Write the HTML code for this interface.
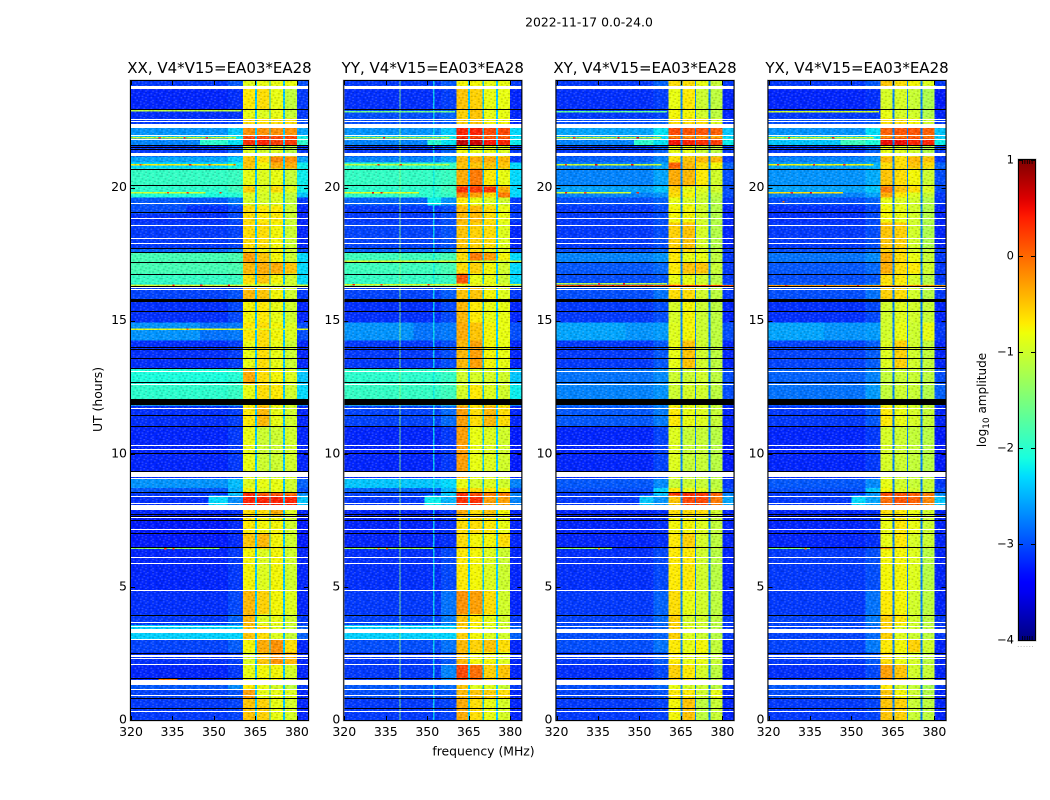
<!DOCTYPE html>
<html>
<head>
<meta charset="utf-8">
<title>2022-11-17 0.0-24.0</title>
<style>
html,body{margin:0;padding:0;background:#fff;}
svg{display:block;}
text{font-family:"DejaVu Sans","Liberation Sans",sans-serif;fill:#000;}
</style>
</head>
<body>
<svg id="figure" xmlns="http://www.w3.org/2000/svg" width="1050" height="800" viewBox="0 0 1050 800">
  <defs>
    <linearGradient id="cbar-grad" x1="0" y1="1" x2="0" y2="0"></linearGradient>
    <pattern id="grain" patternUnits="userSpaceOnUse" width="23.01" height="14.63"></pattern>
  </defs>
  <text x="589" y="26.5" font-size="12.4" text-anchor="middle">2022-11-17 0.0-24.0</text>
  <text x="102" y="399.5" font-size="12.4" text-anchor="middle" transform="rotate(-90 102 399.5)">UT (hours)</text>
  <text x="483.5" y="755.5" font-size="12.4" text-anchor="middle">frequency (MHz)</text>
  <g id="panels"></g>
  <g id="colorbar"></g>
</svg>
<script>
// ---- shared axes data ----
const xTicksMHz = [320, 335, 350, 365, 380];
const yTicksUT = [0, 5, 10, 15, 20];
const cbarTicks = [1, 0, -1, -2, -3, -4];
const cbarMinorTicks = [0.9, 0.8, 0.7, 0.6, 0.5];
const panelTitles = ["XX, V4*V15=EA03*EA28", "YY, V4*V15=EA03*EA28", "XY, V4*V15=EA03*EA28", "YX, V4*V15=EA03*EA28"];
// frequency column edges (MHz) : background, shoulder, band1, gap, band2, gap, band3, gap, band4, right side
const columnEdgesMHz = [320, 355, 360.5, 364.8, 365.5, 370, 370.5, 374.9, 375.6, 380, 384];
const columnKinds = [0, 1, 2, -1, 3, -1, 4, -1, 5, 6];
// UT at the top edge of each time segment; last entry is the bottom of the axis
const segmentTopUT = [24, 23.71, 22.93, 22.59, 22.25, 21.95, 21.84, 21.58, 21.16, 20.94, 20.71, 20.04, 19.81, 19.62, 19.32, 18.69, 17.71, 17.56, 17.19, 16.77, 16.40, 16.29, 15.83, 15.72, 14.93, 14.26, 13.21, 12.61, 12.05, 11.82, 11.03, 9.34, 9.08, 8.71, 8.56, 8.44, 8.07, 7.69, 6.98, 6.49, 6.42, 4.88, 3.98, 3.56, 3.00, 2.55, 2.10, 1.50, 1.13, 0.83, 0];

// log10 amplitude per segment: [background, shoulder, band1, band2, band3, band4, right side]
const levelsXX = [
[-2.9,-2.6,-.9,-.85,-.85,-.85,-2.8],[-3,-2.9,-.75,-.7,-.85,-1.15,-2.9],[-2.95,-2.9,-.85,-.9,-.85,-1.1,-2.9],[-2.9,-2.8,-.7,-.7,-.7,-.7,-2.8],[-2.55,-2.2,-.4,-.4,-.4,-.4,-2.5],
[-2.4,-2,-.1,-.1,-.1,-.1,-2.2],[-2.6,-1.9,0,.05,-.05,-.05,-2],[-2.9,-2.5,-.9,-.95,-.9,-1.2,-2.9],[-2.5,-2.2,-.6,-.7,-.35,-.4,-2.5],[-2.3,-2,-.6,-.8,-.5,-.5,-2.2],
[-1.95,-1.9,-.85,-.9,-.85,-1.1,-2.2],[-2,-1.8,-.65,-.9,-.7,-.9,-2.2],[-2.1,-2,-.9,-.95,-.9,-1.15,-2.4],[-2.75,-2.5,-.95,-.95,-.9,-1.15,-2.9],[-2.95,-2.7,-.7,-.75,-.75,-1.05,-3],
[-2.9,-2.8,-.7,-.7,-.8,-1.05,-3],[-2.7,-2.5,-.7,-.8,-.8,-1,-2.8],[-1.85,-1.8,-.45,-.6,-.8,-1.05,-2.3],[-1.85,-1.8,-.55,-.5,-.5,-.6,-2.3],[-1.95,-1.9,-.7,-.6,-.8,-1,-2.3],
[-2.2,-2,-.8,-.8,-.9,-1,-2.3],[-2.85,-2.7,-.55,-.6,-.8,-1,-2.9],[-2.85,-2.7,-.55,-.6,-.8,-1,-2.9],[-2.95,-2.7,-.8,-.75,-.85,-1,-3],[-2.65,-2.6,-.75,-.7,-.8,-.9,-2.8],
[-2.95,-2.8,-.85,-.7,-.85,-1.05,-3],[-2.1,-2,-.5,-.7,-.8,-.9,-2.4],[-2,-1.9,-.85,-.7,-.75,-1,-2.3],[-2,-1.9,-.85,-.7,-.75,-1,-2.3],[-2.95,-2.8,-.75,-.55,-.85,-1,-3],
[-3,-2.8,-.85,-1.05,-1.05,-1,-3],[-3,-2.8,-.85,-1.05,-1.05,-1,-3],[-2.55,-2.3,-.9,-.85,-.85,-1,-2.7],[-2.75,-2.2,-.8,-.9,-.85,-1,-2.8],[-2.9,-1.9,0,-.2,-.2,-.3,-2.6],
[-2.95,-2.2,.05,.05,.05,.05,-2.4],[-3,-2.9,-.7,-.7,-.5,-.9,-3],[-3.05,-2.9,-.75,-.8,-.8,-1,-3.05],[-3.05,-2.9,-.6,-.55,-.8,-1,-3.05],[-3,-2.8,-.7,-.7,-.8,-1,-3],
[-3,-2.8,-.8,-.9,-.8,-1,-3],[-2.95,-2.7,-.55,-.65,-.8,-.9,-3],[-2.9,-2.5,-.55,-.9,-.85,-1,-2.9],[-2.35,-2.3,-.6,-.7,-.9,-1.1,-2.7],[-2.85,-2.6,-.8,-.5,-.4,-.7,-3],
[-2.95,-2.8,-.9,-.6,-.4,-.55,-3],[-3,-2.8,-.85,-.8,-.8,-.95,-3],[-2.75,-2.4,-.75,-.85,-.95,-1.2,-2.9],[-2.85,-2.7,-.45,-.85,-.85,-.9,-3],[-2.9,-2.8,-.6,-.65,-.85,-.95,-3]
];
const levelsYY = [
[-2.9,-2.6,-.8,-.8,-.85,-.85,-2.9],[-2.95,-2.8,-.6,-.65,-.85,-.85,-3],[-2.8,-2.6,-.65,-.6,-.85,-.85,-3],[-2.8,-2.7,-.65,-.6,-.8,-.8,-3],[-2.55,-2.2,.05,.05,-.1,-.1,-2.3],
[-2.4,-2,0,-.1,-.2,-.2,-2.3],[-2.6,-1.9,.3,.25,.1,.05,-2.2],[-2.9,-2.5,-.8,-.85,-.85,-.9,-2.9],[-2.6,-2.4,-.55,-.5,-.5,-.55,-2.9],[-2,-1.9,-.6,-.6,-.6,-.6,-2.3],
[-1.95,-1.9,-.5,-.3,-.75,-.85,-2.3],[-2,-1.8,0,-.05,0,-.5,-2.3],[-2,-1.9,-.35,-.45,-.7,-.3,-2.3],[-2.7,-2.4,-.75,-.85,-.9,-1,-2.9],[-2.9,-2.7,-.55,-.55,-.7,-.85,-2.9],
[-2.85,-2.7,-.6,-.65,-.7,-.9,-3],[-2.7,-2.5,-.65,-.7,-.85,-.9,-2.8],[-1.9,-1.8,-.7,-.3,-.45,-.8,-2.3],[-1.9,-1.8,-.7,-.65,-.8,-1,-2.3],[-1.95,-1.9,-.15,-.85,-.85,-1.05,-2.3],
[-2,-1.9,-.7,-.7,-.8,-.9,-2.3],[-2.85,-2.6,-.6,-.6,-.8,-.9,-2.9],[-2.85,-2.6,-.6,-.6,-.8,-.9,-2.9],[-2.95,-2.7,-.55,-.75,-.85,-.85,-3],[-2.65,-2.6,-.5,-.6,-.8,-.85,-2.8],
[-2.9,-2.7,-.55,-.45,-.8,-.85,-3],[-2,-1.9,-1,-.95,-.95,-1,-2.4],[-1.95,-1.85,-.95,-.75,-.9,-1,-2.2],[-1.95,-1.85,-.95,-.75,-.9,-1,-2.2],[-2.85,-2.5,-.45,-.7,-.55,-.7,-3],
[-3,-2.8,-.45,-.85,-.9,-1,-3.05],[-3,-2.8,-.45,-.85,-.9,-1,-3.05],[-2.4,-2.2,-.85,-.95,-.9,-1,-2.6],[-2.7,-2.2,-.65,-.7,-.75,-.8,-2.8],[-2.85,-1.9,0,-.15,-.3,-.3,-2.6],
[-2.9,-2,0,0,-.45,-.45,-2.6],[-3,-2.8,-.5,-.7,-.6,-.8,-3],[-3,-2.9,-.7,-.7,-.75,-.85,-3],[-3,-2.9,-.7,-.8,-.8,-.7,-3],[-3,-2.7,-.6,-.7,-.85,-1,-3],
[-2.95,-2.7,-.75,-.8,-.9,-1.05,-3],[-2.9,-2.4,-.4,-.45,-.7,-1,-3],[-2.85,-2.4,-.6,-.75,-.85,-1,-2.9],[-2.35,-2.3,-.65,-.8,-.9,-1,-2.7],[-2.8,-2.5,-.55,-.65,-.6,-.7,-3],
[-2.9,-2.6,-.55,-.8,-.8,-.9,-3],[-2.9,-2.3,-.1,-.25,-.65,-.6,-3],[-2.75,-2.6,-.6,-.9,-.9,-1.1,-2.9],[-2.8,-2.7,-.55,-.6,-.65,-.7,-3],[-2.9,-2.8,-.5,-.7,-.85,-.95,-3]
];
const levelsXY = [
[-2.9,-2.5,-.7,-.7,-.85,-1.1,-2.9],[-2.95,-2.8,-.85,-.75,-1.05,-1.2,-3],[-2.9,-2.8,-.8,-.8,-1,-1.2,-3],[-2.8,-2.6,-.7,-.7,-.7,-.9,-2.9],[-2.5,-2,-.1,-.15,-.15,-.2,-2.4],
[-2.5,-2.1,-.35,-.4,-.45,-.5,-2.3],[-2.6,-1.9,.12,.05,0,-.05,-2.2],[-2.9,-2.5,-.85,-.85,-1.05,-1.2,-2.9],[-2.7,-2.5,-.7,-.6,-.55,-.55,-2.9],[-2.6,-2.4,-.2,-.55,-.7,-.8,-2.7],
[-2.6,-2.4,-.5,-.55,-.75,-1,-2.8],[-2.5,-2.3,-.65,-.85,-.9,-1,-2.8],[-2.6,-2.5,-.7,-.8,-1,-1.2,-2.8],[-2.8,-2.6,-.85,-.9,-1.05,-1.3,-2.9],[-2.9,-2.7,-.8,-.8,-1,-1.3,-3],
[-2.9,-2.7,-.65,-.6,-.95,-1.3,-3],[-2.8,-2.6,-.7,-.7,-.9,-1.2,-2.9],[-2.6,-2.5,-.75,-.85,-.85,-1.2,-2.9],[-2.75,-2.6,-.75,-.6,-.6,-1.1,-2.9],[-2.8,-2.7,-.85,-.85,-1,-1.25,-2.9],
[-2.7,-2.5,-.7,-.8,-.9,-1,-2.7],[-2.8,-2.5,-.7,-.7,-1,-1.2,-2.9],[-2.8,-2.5,-.7,-.7,-1,-1.2,-2.9],[-2.9,-2.7,-.95,-.8,-1.05,-1.2,-3],[-2.55,-2.5,-.9,-.8,-1.05,-1.2,-2.8],
[-2.9,-2.6,-.85,-.6,-1,-1.2,-3],[-2.65,-2.5,-1.05,-1.05,-1,-1.2,-2.8],[-2.6,-2.5,-1.05,-.95,-1,-1.2,-2.8],[-2.6,-2.5,-1.05,-.95,-1,-1.2,-2.8],[-2.75,-2.5,-.75,-.85,-.9,-1.1,-3],
[-3,-2.7,-.9,-1.1,-1.1,-1.25,-3.05],[-3,-2.7,-.9,-1.1,-1.1,-1.25,-3.05],[-2.75,-2.4,-1.1,-1.05,-1.1,-1.2,-2.9],[-2.8,-1.9,-.75,-.85,-.9,-1.1,-2.8],[-2.9,-1.9,0,0,-.05,-.2,-2.6],
[-2.9,-2.2,-.6,-.1,-.1,-.3,-2.5],[-3,-2.9,-.7,-.7,-.7,-1,-3],[-3,-2.9,-.8,-.8,-.9,-1.15,-3],[-3,-2.9,-.75,-.65,-.95,-1.2,-3],[-3,-2.7,-.7,-.7,-.9,-1.1,-3],
[-2.95,-2.7,-.75,-.75,-1,-1.25,-3],[-2.9,-2.5,-.7,-.85,-1,-1.2,-3],[-2.85,-2.5,-.65,-.95,-1,-1.2,-2.9],[-2.8,-2.6,-.65,-.9,-1.05,-1.25,-2.9],[-2.8,-2.5,-.75,-.85,-.8,-1.15,-3],
[-2.9,-2.6,-.75,-.85,-.85,-1.1,-3],[-2.95,-2.7,-.65,-.75,-.95,-1.2,-3],[-2.8,-2.6,-.85,-.95,-1.05,-1.2,-2.9],[-2.85,-2.7,-.75,-.75,-1,-.85,-3],[-2.9,-2.8,-.8,-.6,-1.2,-1.1,-3]
];
const levelsYX = [
[-2.9,-2.6,-.6,-.7,-.8,-.9,-2.9],[-3,-2.9,-.95,-.95,-1.1,-1.35,-3.05],[-2.9,-2.9,-.85,-.95,-1,-1.3,-3],[-2.8,-2.7,-.7,-.7,-.8,-1,-2.9],[-2.55,-2,-.2,-.15,-.15,-.2,-2.4],
[-2.4,-2.1,-.4,-.3,-.2,-.3,-2.4],[-2.4,-1.8,.15,.15,.05,.05,-2.2],[-2.9,-2.5,-.85,-.9,-1,-1.3,-2.9],[-2.6,-2.5,-.55,-.7,-.55,-.6,-2.9],[-2.5,-2.4,-.7,-.7,-.6,-.7,-2.7],
[-2.55,-2.4,-.6,-.7,-.8,-1.05,-2.8],[-2.5,-2.3,-.3,-.6,-.7,-.9,-2.8],[-2.6,-2.4,-.5,-.75,-.9,-1.1,-2.9],[-2.8,-2.6,-.85,-.9,-1,-1.3,-2.9],[-2.95,-2.7,-.8,-.85,-1,-1.3,-3],
[-2.9,-2.7,-.6,-.65,-1,-1.35,-3],[-2.8,-2.6,-.65,-.7,-.95,-1.1,-2.9],[-2.65,-2.5,-.5,-.7,-.85,-1.1,-2.9],[-2.75,-2.6,-.5,-.7,-.75,-1,-2.9],[-2.8,-2.7,-.7,-.75,-.95,-1.25,-2.9],
[-2.7,-2.5,-.8,-.85,-.9,-1.1,-2.7],[-2.8,-2.5,-.65,-.7,-1,-1.25,-2.9],[-2.8,-2.5,-.65,-.7,-1,-1.25,-2.9],[-2.95,-2.7,-1,-.9,-1,-1.1,-3],[-2.55,-2.5,-1,-.85,-1.05,-.85,-2.9],
[-2.85,-2.6,-.9,-.65,-1,-1.15,-3],[-2.7,-2.5,-1.15,-1.1,-1.1,-1.2,-2.8],[-2.65,-2.4,-1.15,-1.05,-1.1,-1.3,-2.7],[-2.65,-2.4,-1.15,-1.05,-1.1,-1.3,-2.7],[-2.9,-2.6,-.75,-.85,-.95,-1.1,-3],
[-3,-2.8,-.95,-1.05,-1.15,-1.25,-3.05],[-3,-2.8,-.95,-1.05,-1.15,-1.25,-3.05],[-2.75,-2.4,-.85,-1,-1.1,-1.1,-2.9],[-2.8,-2,-.8,-.9,-1,-1.1,-2.8],[-2.9,-2.2,-.1,-.15,-.2,-.3,-2.6],
[-2.9,-2.1,-.25,-.15,-.2,-.35,-2.4],[-3,-2.9,-.7,-.75,-.85,-1,-3],[-3,-2.9,-.85,-.75,-.85,-1.05,-3],[-3,-2.9,-.85,-.75,-.95,-1.05,-3],[-3,-2.7,-.4,-.75,-.9,-1.1,-3],
[-2.9,-2.7,-.8,-.8,-.9,-1.25,-3],[-2.9,-2.4,-.75,-.8,-1,-1.2,-3],[-2.85,-2.4,-.65,-.75,-1,-1.2,-2.9],[-2.85,-2.5,-.65,-.9,-1.05,-1.2,-2.9],[-2.85,-2.4,-.75,-.8,-.65,-1,-3],
[-2.9,-2.6,-.7,-.85,-.95,-1.2,-3],[-2.95,-2.7,-.45,-.6,-1,-1.1,-3],[-2.75,-2.6,-.75,-1,-1.15,-1.4,-2.9],[-2.8,-2.7,-.6,-.8,-1.05,-1.3,-3],[-2.9,-2.8,-.6,-.65,-1.1,-1.2,-3]
];
const gapLevels = [-2.4, -2.4, -2.6, -2.6];
// faint narrow spectral lines [MHz, log10 amplitude] per panel
const linesXX = [];
const linesYY = [[339.9, -1.4], [352.1, -2.2]];
const linesXY = [];
const linesYX = [];
// thin interference rows: [UT, start MHz, end MHz, log10 amplitude]
const rfiRowsXX = [[22.92,320,360,-1.1],[21.9,320,358,-1],[20.88,320,358,-.75],[19.84,320,347,-1],[16.36,320,384,-1],[14.7,320,384,-.9],[6.47,320,352,-1.4],[1.55,330,336,-.3]];
const rfiRowsYY = [[22.87,320,360,-1.6],[21.9,320,358,-1.2],[20.88,320,358,-1.1],[19.84,320,347,-.9],[17.25,320,384,-1],[16.38,320,384,-.9],[6.47,320,352,-1.3]];
const rfiRowsXY = [[22.87,320,360,-1.7],[21.9,320,358,-1.1],[20.88,320,358,-1],[19.84,320,347,-1],[16.42,320,360,-1.1],[16.33,320,384,-.1],[6.47,320,340,-1.4]];
const rfiRowsYX = [[22.87,320,360,-1],[21.9,320,358,-1],[20.88,320,358,-.8],[19.84,320,347,-.7],[16.33,320,384,-.4],[6.47,320,335,-1.5]];
// hot pixels in the interference rows: [UT, MHz, log10 amplitude]
const hotXX = [[21.9,339,.3],[21.9,347,.3],[21.9,330,.3],[20.88,341,.4],[20.88,323,.2],[20.88,357,0],[20.88,348,.3],[19.84,333,.2],[19.84,340,.4],[19.84,352,.3],[16.36,335,.4],[16.36,345,.4],[16.36,355,.4],[14.7,340,0],[6.47,332,.2],[6.47,335,.2],[1.55,333,0],[1.55,336,0]];
const hotYY = [[21.9,334,.3],[20.88,332,.4],[20.88,340,.3],[19.84,330,.5],[19.84,333,.5],[16.38,323,.4],[16.38,333,.4],[16.38,350,.4],[6.47,335,0],[6.47,332,0]];
const hotXY = [[21.9,326,.3],[21.9,342,.4],[21.9,349,.4],[20.88,334,.5],[20.88,323,.3],[20.88,347,.5],[19.84,330,.3],[19.84,323,.4],[19.84,349,.3],[16.42,335,.3],[16.42,344,.3],[16.33,328,.5],[16.33,340,.5],[16.33,352,.5],[6.47,335,-.2]];
const hotYX = [[21.9,327,.4],[21.9,343,.4],[20.88,323,.4],[20.88,336,.4],[20.88,347,.4],[19.84,328,.5],[19.84,335,.5],[16.33,326,.4],[16.33,340,.4],[16.33,352,.4],[6.47,333,-.1],[19.5,325,0]];
// brighter sky patches: [top UT, bottom UT, start MHz, end MHz, log10 amplitude]
const patchesXX = [[14.93,14.26,320,345,-2.55],[21.8,21.58,345,355,-2],[8.44,8.07,348,355,-2.3],[19.32,19.0,320,340,-2.8]];
const patchesYY = [[14.93,14.26,320,345,-2.55],[21.8,21.58,350,355,-2],[8.44,8.07,349,355,-2.2],[19.62,19.32,350,355,-2.2]];
const patchesXY = [[14.93,14.26,320,345,-2.5],[21.8,21.58,348,355,-2],[8.44,8.07,350,355,-2.4]];
const patchesYX = [[14.93,14.26,320,340,-2.5],[21.8,21.58,346,355,-1.9],[8.44,8.07,350,355,-2.3]];
// flagged rows
const whiteThinUT = [22.59,22.49,21.99,21.83,19.40,18.84,18.61,18.12,17.90,16.26,16.17,15.72,13.11,12.63,11.71,10.32,10.17,9.10,8.41,8.14,7.62,7.17,6.12,5.89,4.88,3.68,3.54,3.04,2.46,2.40,2.33,2.10,1.16,0.94,0.34];
const whiteBandsUT = [[23.83,23.71],[22.40,22.25],[21.29,21.16],[9.31,9.12],[8.07,7.88],[3.41,3.26],[1.50,1.31]];
const blackThinUT = [22.94,21.61,21.51,21.43,20.71,20.08,19.07,17.71,17.56,17.19,16.75,16.30,15.35,14.01,13.92,13.59,13.21,12.68,11.44,11.03,10.02,9.34,8.56,7.75,7.67,7.50,7.02,6.49,3.96,2.53,1.56,0.83,0.45];
const blackBandsUT = [[15.82,15.72],[12.05,11.82]];
// grain tile: d = darker pixel, l = lighter pixel
const grainTile = ["d..l.d..l...d",".l...l..d.l..","..d.l...l..d.","l...d.d...l..",".d.l...l.d..l","...d.l...l.d.","l.l...d.d....",".d..l..l...ld","..l.d.....d..","d...l.d.l...l",".l.d...l..d.."];

// ---- layout ----
const NS = "http://www.w3.org/2000/svg";
const panelLeft = [131, 344.3, 556.5, 768.5];
const panelWidth = 177, plotTop = 81, plotBottom = 720;
const rowHours = 0.05;
const levelMin = -4, levelMax = 1;
const allLevels = [levelsXX, levelsYY, levelsXY, levelsYX];
const allLines = [linesXX, linesYY, linesXY, linesYX];
const allHot = [hotXX, hotYY, hotXY, hotYX];
const allRfi = [rfiRowsXX, rfiRowsYY, rfiRowsXY, rfiRowsYX];
const allPatches = [patchesXX, patchesYY, patchesXY, patchesYX];
const panelKeys = ["xx", "yy", "xy", "yx"];

function xScale(p, mhz) { return panelLeft[p] + (mhz - 320) / 64 * panelWidth; }
function yScale(ut) { return plotBottom - ut / 24 * (plotBottom - plotTop); }
function shownLevel(v, isBand) {
  if (v > -.9) return -.9 + (v + .9) * 1.35;
  if (isBand) return v < -.95 ? -.95 + (v + .95) * .6 : v;
  if (v < -2.4) return v - .2 * Math.min(1, (-2.4 - v) / .3);
  return v;
}
function jet(v) {
  const t = Math.max(0, Math.min(1, (v - levelMin) / (levelMax - levelMin)));
  const ch = (pts) => {
    for (let i = 1; i < pts.length; i++) {
      if (t <= pts[i][0]) {
        const a = pts[i - 1], b = pts[i];
        return a[1] + (b[1] - a[1]) * (t - a[0]) / (b[0] - a[0]);
      }
    }
    return pts[pts.length - 1][1];
  };
  const r = ch([[0, 0], [.35, 0], [.66, 1], [.89, 1], [1, .5]]);
  const g = ch([[0, 0], [.125, 0], [.375, 1], [.64, 1], [.91, 0], [1, 0]]);
  const b = ch([[0, .5], [.11, 1], [.34, 1], [.65, 0], [1, 0]]);
  return "rgb(" + Math.round(r * 255) + "," + Math.round(g * 255) + "," + Math.round(b * 255) + ")";
}
function mk(tag, attrs, parent) {
  const el = document.createElementNS(NS, tag);
  for (const k in attrs) el.setAttribute(k, attrs[k]);
  parent.appendChild(el);
  return el;
}

// grain tile
const grainEl = document.getElementById("grain");
grainTile.forEach(function (line, r) {
  for (let c = 0; c < line.length; c++) {
    if (line[c] === ".") continue;
    mk("rect", { x: c * 1.77, y: r * 1.33, width: 1.77, height: 1.33, fill: line[c] === "d" ? "#000" : "#fff", opacity: line[c] === "d" ? .16 : .17 }, grainEl);
  }
});

const root = document.getElementById("panels");
panelTitles.forEach(function (title, p) {
  const g = mk("g", {}, root);
  
  
  const heat = mk("g", { "shape-rendering": "crispEdges" }, g);
  
  
  const x0 = panelLeft[p], levels = allLevels[p];
  // cells
  levels.forEach(function (row, s) {
    const yT = yScale(segmentTopUT[s]), yB = yScale(segmentTopUT[s + 1]);
    columnKinds.forEach(function (kind, c) {
      const xL = xScale(p, columnEdgesMHz[c]), xR = xScale(p, columnEdgesMHz[c + 1]);
      const value = kind < 0 ? gapLevels[p] : (kind === 1 ? (row[0] + row[1]) / 2 : row[kind]);
      const isBand = kind >= 2 && kind <= 5;
      const cell = mk("rect", { x: xL, y: yT, width: xR - xL, height: yB - yT, fill: jet(shownLevel(value, isBand)) }, heat);
      
      
    });
  });
  // sky patches
  allPatches[p].forEach(function (pt) {
    const patch = mk("rect", { x: xScale(p, pt[2]), y: yScale(pt[0]), width: xScale(p, pt[3]) - xScale(p, pt[2]), height: yScale(pt[1]) - yScale(pt[0]), fill: jet(shownLevel(pt[4], false)) }, heat);
    
    
  });
  // spectral lines
  allLines[p].forEach(function (ln) {
    const line = mk("rect", { x: xScale(p, ln[0]), y: plotTop, width: 1.4, height: plotBottom - plotTop, fill: jet(ln[1]), opacity: .8 }, heat);
    
    
  });
  // thin interference rows
  allRfi[p].forEach(function (r) {
    const rfi = mk("rect", { x: xScale(p, r[1]), y: yScale(r[0]), width: xScale(p, r[2]) - xScale(p, r[1]), height: 1.5, fill: jet(shownLevel(r[3], false)) }, heat);
    
    
  });
  // hot pixels
  allHot[p].forEach(function (h) {
    const hot = mk("rect", { x: xScale(p, h[1]), y: yScale(h[0]), width: 2.2, height: 1.6, fill: jet(h[2]) }, heat);
    
    
  });
  // grain
  const grain = mk("rect", { x: x0, y: plotTop, width: panelWidth, height: plotBottom - plotTop, fill: "url(#grain)" }, g);
  
  
  // flagged rows
  const flags = mk("g", { "shape-rendering": "crispEdges" }, g);
  
  
  function flagRow(top, bottom, colour) {
    const y = Math.round(yScale(top));
    const h = Math.max(1, Math.round(yScale(bottom) - yScale(top)));
    const r = mk("rect", { x: x0, y: y, width: panelWidth, height: h, fill: colour }, flags);
    
    
  }
  whiteThinUT.forEach(function (u) { flagRow(u, u - rowHours, "#fff"); });
  whiteBandsUT.forEach(function (b) { flagRow(b[0], b[1], "#fff"); });
  blackThinUT.forEach(function (u) { flagRow(u, u - rowHours, "#000"); });
  blackBandsUT.forEach(function (b) { flagRow(b[0], b[1], "#000"); });
  // frame
  const halo = mk("rect", { x: x0 - 1, y: plotTop - 1, width: panelWidth + 2, height: plotBottom - plotTop + 2, fill: "none", stroke: "#bbb", "stroke-width": 1 }, g);
  
  
  const frame = mk("rect", { x: x0 - .5, y: plotTop - .5, width: panelWidth + 1, height: plotBottom - plotTop + 1, fill: "none", stroke: "#000", "stroke-width": 1 }, g);
  
  
  // ticks
  xTicksMHz.forEach(function (t) {
    const x = Math.round(xScale(p, t)) + .5;
    const bt = mk("line", { x1: x, x2: x, y1: plotBottom, y2: plotBottom - 4, stroke: "#000" }, g);
    
    
    const tt = mk("line", { x1: x, x2: x, y1: plotTop, y2: plotTop + 4, stroke: "#000" }, g);
    
    
    const lab = mk("text", { x: xScale(p, t), y: 736, "font-size": 12.5, "text-anchor": "middle" }, g);
    
    
    lab.textContent = t;
  });
  yTicksUT.forEach(function (t) {
    const y = Math.round(yScale(t)) + .5;
    const lt = mk("line", { x1: x0, x2: x0 + 4, y1: y, y2: y, stroke: "#000" }, g);
    
    
    const rt = mk("line", { x1: x0 + panelWidth, x2: x0 + panelWidth - 4, y1: y, y2: y, stroke: "#000" }, g);
    
    
    const lab = mk("text", { x: x0 - 4, y: yScale(t) + 3.5, "font-size": 12.5, "text-anchor": "end" }, g);
    
    
    lab.textContent = t;
  });
  const tt = mk("text", { x: x0 + panelWidth / 2, y: 73, "font-size": 15, "text-anchor": "middle" }, g);
  
  
  tt.textContent = title;
});

// ---- colorbar ----
const cb = document.getElementById("colorbar");
const cbX = 1019, cbW = 16, cbTop = 160, cbBottom = 640;
function cbScale(v) { return cbBottom - (v - levelMin) / (levelMax - levelMin) * (cbBottom - cbTop); }
const grad = document.getElementById("cbar-grad");
for (let i = 0; i <= 50; i++) {
  mk("stop", { offset: i / 50, "stop-color": jet(levelMin + (levelMax - levelMin) * i / 50) }, grad);
}
const bar = mk("rect", { x: cbX, y: cbTop, width: cbW, height: cbBottom - cbTop, fill: "url(#cbar-grad)" }, cb);


const cbHalo = mk("rect", { x: cbX - 1, y: cbTop - 1, width: cbW + 2, height: cbBottom - cbTop + 2, fill: "none", stroke: "#bbb" }, cb);


const cbOut = mk("rect", { x: cbX - .5, y: cbTop - .5, width: cbW + 1, height: cbBottom - cbTop + 1, fill: "none", stroke: "#000" }, cb);


cbarTicks.forEach(function (t) {
  const y = Math.round(cbScale(t)) + .5;
  const a = mk("line", { x1: cbX, x2: cbX + 4, y1: y, y2: y, stroke: "#000" }, cb);
  
  
  const b = mk("line", { x1: cbX + cbW, x2: cbX + cbW - 4, y1: y, y2: y, stroke: "#000" }, cb);
  
  
  const lab = mk("text", { x: 1014, y: cbScale(t) + 3.5, "font-size": 11.5, "text-anchor": "end" }, cb);
  
  
  lab.textContent = t < 0 ? "\u2212" + Math.abs(t) : String(t);
});
cbarMinorTicks.forEach(function (m, i) {
  const x = cbX + 3.5 + i * 2.4;
  const top = mk("line", { x1: x, x2: x, y1: cbTop, y2: cbTop + 4, stroke: "#000", "stroke-width": .8 }, cb);
  
  
  const bot = mk("line", { x1: x, x2: x, y1: cbBottom, y2: cbBottom - 4, stroke: "#000", "stroke-width": .8 }, cb);
  
  
});
const dots = mk("text", { x: 1026, y: 647, "font-size": 6, "text-anchor": "middle", fill: "#777" }, cb);


dots.setAttribute('style', 'fill:#777;letter-spacing:1px');
dots.textContent = "......";
const cbLabel = mk("text", { x: 986, y: 400, "font-size": 12, "text-anchor": "middle", transform: "rotate(-90 986 400)" }, cb);


cbLabel.appendChild(document.createTextNode("log"));
const sub = mk("tspan", { dy: 3, "font-size": 9 }, cbLabel);
sub.textContent = "10";
const rest = mk("tspan", { dy: -3 }, cbLabel);
rest.textContent = " amplitude";
</script>
</body>
</html>
